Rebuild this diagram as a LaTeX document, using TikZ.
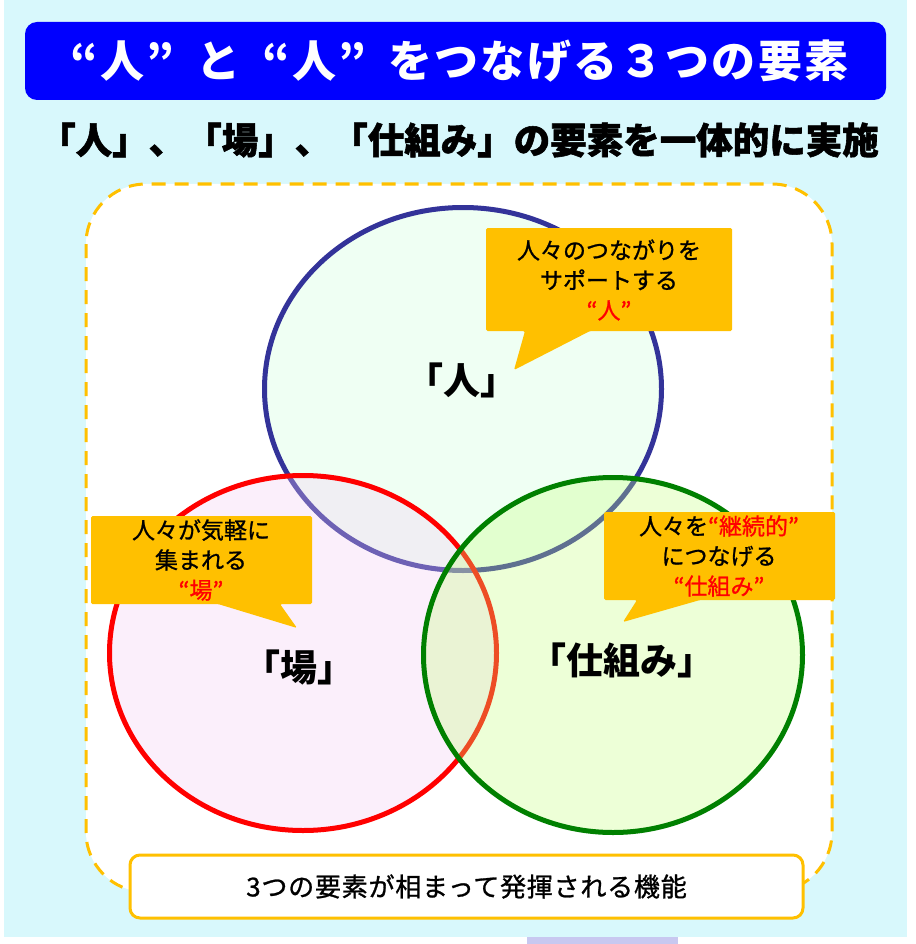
\documentclass[tikz,border=0pt]{standalone}
\usepackage{fontspec}
\usetikzlibrary{shapes.geometric}
\newfontfamily\jp{Noto Sans CJK JP}
\newfontfamily\jpm{Noto Sans CJK JP}[FakeBold=1]
\newfontfamily\jph{Noto Sans CJK JP}[BoldFeatures={FakeBold=1.5}]
\definecolor{bgcyan}{HTML}{D8F8FC}
\definecolor{titleblue}{HTML}{0000FF}
\definecolor{orng}{HTML}{FFC000}
\definecolor{navy}{HTML}{333399}
\definecolor{grn}{HTML}{008000}
\definecolor{lav}{HTML}{C8C8F0}
\definecolor{fillA}{HTML}{CDFFDA}
\definecolor{fillB}{HTML}{F5CDF5}
\definecolor{fillC}{HTML}{C6FF7D}
\tikzset{
  every node/.style={font=\jp, inner sep=0pt},
  titlebox/.style={fill=titleblue, rounded corners=12pt, minimum width=861pt, minimum height=78pt, text=white, font=\jp\bfseries\fontsize{44}{50}\selectfont},
  subtitle/.style={font=\jph\bfseries\fontsize{36.5}{42}\selectfont},
  ring/.style={ellipse, line width=5pt, fill opacity=0.3, draw opacity=1},
  ringlabel/.style={font=\jp\bfseries\fontsize{37}{42}\selectfont},
  balloon/.style={fill=orng, rounded corners=1.5pt},
  balloontext/.style={align=center, font=\jpm\fontsize{23}{30}\selectfont},
  bottombox/.style={draw=orng, line width=3pt, fill=white, rounded corners=10pt, minimum width=673pt, minimum height=63pt, font=\jpm\fontsize{26}{30}\selectfont},
}
\begin{document}
\begin{tikzpicture}[x=1pt, y=-1pt]
\useasboundingbox (0,0) rectangle (915,944);
\fill[white] (0,0) rectangle (915,944);
\fill[bgcyan] (4,0) rectangle (907,937);
\fill[lav] (527,937) rectangle (678,944);
% title
\node[titlebox] (title) at (455.5,61) {\hspace*{8pt}\addfontfeature{LetterSpace=5}“人”\hspace{22pt}と\hspace{22pt}“人”\hspace{22pt}をつなげる３つの要素};
\node[subtitle] (sub) at (459,140) {「人」、「場」、「仕組み」の要素を一体的に実施};
% dashed frame
\draw[orng, line width=3pt, dash pattern=on 14pt off 9pt, rounded corners=60pt, fill=white] (86,184) rectangle (832,892);
% circles
\node[ring, draw=navy, fill=fillA, minimum width=397pt, minimum height=363pt] (hito) at (463,389) {};
\node[ring, draw=red, fill=fillB, minimum width=387pt, minimum height=355pt] (ba) at (303,653) {};
\node[ring, draw=grn, fill=fillC, minimum width=379pt, minimum height=355pt] (shikumi) at (613,655) {};
\node[ringlabel] (lhito) at (462,380) {「人」};
\node[ringlabel] (lba) at (299,668) {「場」};
\node[ringlabel] (lshikumi) at (622,660) {「仕組み」};
% balloons
\fill[balloon] (486,228) -- (732,228) -- (732,331) -- (590,331) -- (514,370) -- (525,331) -- (486,331) -- cycle;
\node[balloontext] (b1) at (609,280) {人々のつながりを\\サポートする\\\textcolor{red}{“人”}};
\fill[balloon] (91,516) -- (312,516) -- (312,604) -- (280,604) -- (297,628) -- (218,604) -- (91,604) -- cycle;
\node[balloontext] (b2) at (201,560) {人々が気軽に\\集まれる\\\textcolor{red}{“場”}};
\fill[balloon] (604,512) -- (835,512) -- (835,600) -- (700,600) -- (623,622) -- (637,600) -- (604,600) -- cycle;
\node[balloontext] (b3) at (719,556) {人々を\textcolor{red}{“継続的”}\\につなげる\\\textcolor{red}{“仕組み”}};
% bottom box
\node[bottombox] (bot) at (466.5,886.5) {\addfontfeature{LetterSpace=3}3つの要素が相まって発揮される機能};
\end{tikzpicture}
\end{document}
